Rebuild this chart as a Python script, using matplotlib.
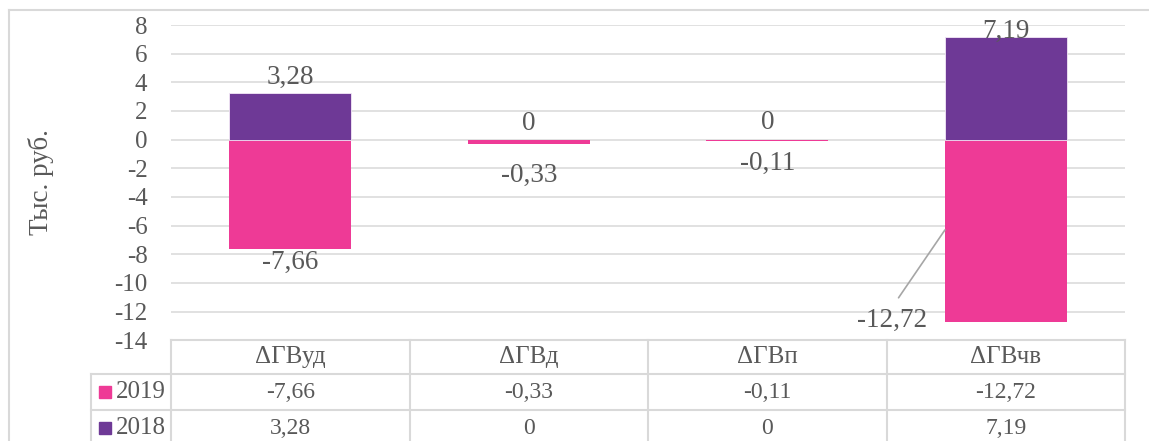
import matplotlib
matplotlib.use("Agg")
import matplotlib.pyplot as plt
from matplotlib.lines import Line2D
from matplotlib.patches import Rectangle

categories = ["ΔГВуд", "ΔГВд", "ΔГВп", "ΔГВчв"]
series_names = ["2019", "2018"]
values_2019 = [-7.66, -0.33, -0.11, -12.72]
values_2018 = [3.28, 0, 0, 7.19]
y_ticks = [8, 6, 4, 2, 0, -2, -4, -6, -8, -10, -12, -14]
y_label = "Тыс. руб."

PINK = "#EE3A96"
PURPLE = "#6E3996"
TXT = "#595959"
GRID = "#D9D9D9"

plt.rcParams["font.family"] = ["Liberation Serif", "DejaVu Serif"]

W, H = 1149, 441
fig = plt.figure(figsize=(W / 100, H / 100), dpi=100)

def fx(px):
    return px / W

def fy(py):
    return 1 - py / H

# axes placement (pixel coordinates of plot area)
L, R, T, B = 171, 1125, 25, 340.3
ax = fig.add_axes([fx(L), fy(B), fx(R) - fx(L), fy(T) - fy(B)])
ax.set_xlim(-0.5, len(categories) - 0.5)
ax.set_ylim(-14, 8)
ax.set_yticks(y_ticks)
ax.set_yticklabels([str(t) for t in y_ticks], fontsize=18, color=TXT)
ax.tick_params(axis="y", length=0, pad=17)
ax.set_xticks([])
for s in ax.spines.values():
    s.set_visible(False)
ax.grid(axis="y", color=GRID, linewidth=1.1)
ax.set_axisbelow(True)

x = list(range(len(categories)))
ax.bar(x, values_2019, width=0.51, color=PINK, linewidth=0, zorder=3)
ax.bar(x, values_2018, width=0.51, color=PURPLE, edgecolor="#F3E8F7",
       linewidth=[0.6 if v else 0 for v in values_2018], zorder=3)

fig.text(fx(41), fy(182), y_label, rotation=90, ha="center", va="center",
         fontsize=19.5, color=TXT)

# data labels (pixel offsets from bar end)
off_2018 = [15, 16, 17, 5]
off_2019 = [-13, -31, -22, None]
LBL = 19.5
for i in x:
    ax.annotate(f"{values_2018[i]:g}".replace(".", ","), xy=(i, values_2018[i]),
                xytext=(0, off_2018[i]), textcoords="offset pixels",
                ha="center", va="center", fontsize=LBL, color=TXT, zorder=5)
    if off_2019[i] is not None:
        ax.annotate(f"{values_2019[i]:g}".replace(".", ","), xy=(i, values_2019[i]),
                    xytext=(0, off_2019[i]), textcoords="offset pixels",
                    ha="center", va="center", fontsize=LBL, color=TXT, zorder=5)

# last pink label with leader line
i = 3
ax.annotate(f"{values_2019[i]:g}".replace(".", ","), xy=(i - 0.255, -6.3),
            xytext=(-53, -90), textcoords="offset pixels",
            ha="center", va="center", fontsize=LBL, color=TXT, zorder=5,
            arrowprops=dict(arrowstyle="-", color="#A6A6A6", lw=1.2,
                            relpos=(0.5, 1.0), shrinkA=6, shrinkB=0))

# data table
fig.canvas.draw()
def col_edge(v):
    px, _ = ax.transData.transform((v, 0))
    return px

edges = [col_edge(v - 0.5) for v in range(len(categories) + 1)]
centers = [col_edge(v) for v in x]
leg_left = 91
row_y = [340.3, 374, 410, 446]

def hline(y, x0, x1):
    fig.add_artist(Line2D([fx(x0), fx(x1)], [fy(y), fy(y)], color=GRID, lw=1.5))

def vline(xp, y0, y1):
    fig.add_artist(Line2D([fx(xp), fx(xp)], [fy(y0), fy(y1)], color=GRID, lw=1.5))

hline(row_y[0], edges[0], edges[-1])
hline(row_y[1], leg_left, edges[-1])
hline(row_y[2], leg_left, edges[-1])
for e in edges:
    vline(e, row_y[0], row_y[3])
vline(leg_left, row_y[1], row_y[3])

for c, name in zip(centers, categories):
    fig.text(fx(c), fy((row_y[0] + row_y[1]) / 2), name, ha="center", va="center",
             fontsize=18, color=TXT)

rows = [(series_names[0], values_2019, PINK), (series_names[1], values_2018, PURPLE)]
for r, (name, vals, col) in enumerate(rows):
    yc = (row_y[r + 1] + row_y[r + 2]) / 2
    fig.add_artist(Rectangle((fx(99), fy(yc + 6)), fx(12), 12 / H, color=col,
                             transform=fig.transFigure))
    fig.text(fx(116), fy(yc), name, ha="left", va="center", fontsize=18, color=TXT)
    for c, v in zip(centers, vals):
        fig.text(fx(c), fy(yc), f"{v:g}".replace(".", ","), ha="center", va="center",
                 fontsize=17, color=TXT)

# outer chart border
fig.add_artist(Line2D([fx(8.5), fx(W)], [fy(10), fy(10)], color=GRID, lw=1.5))
fig.add_artist(Line2D([fx(8.5), fx(8.5)], [fy(10), fy(H)], color=GRID, lw=1.5))

fig.savefig("out.png", dpi=100)
